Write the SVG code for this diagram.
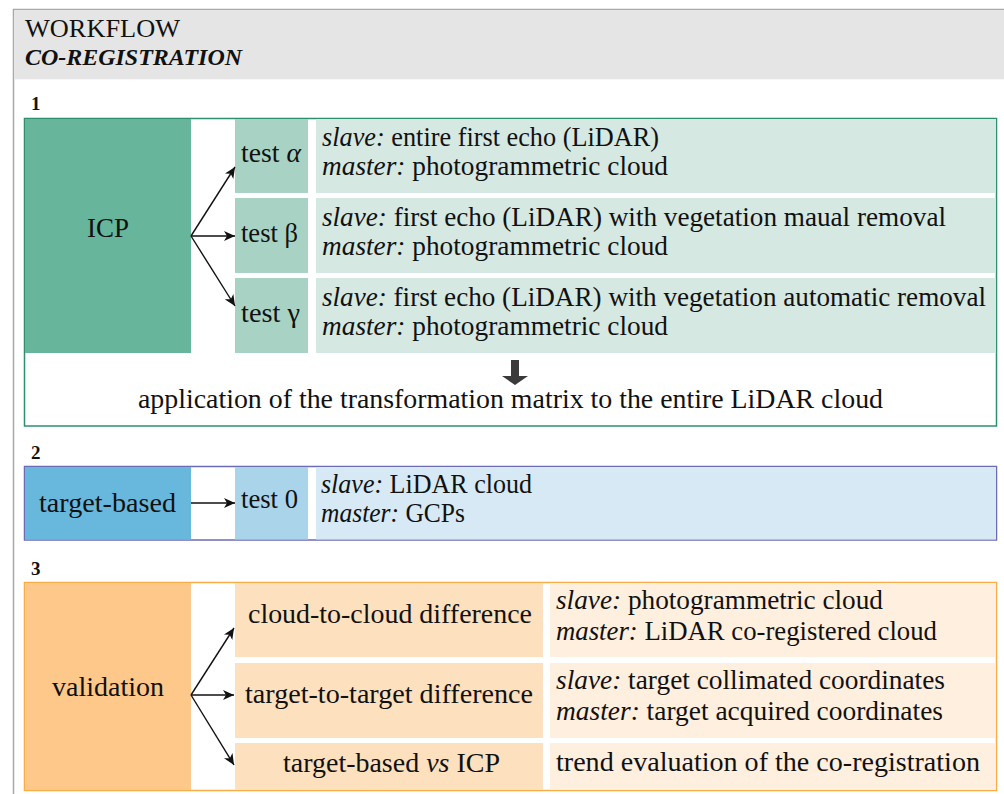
<svg xmlns="http://www.w3.org/2000/svg" width="1004" height="794" viewBox="0 0 1004 794">
<style>
text { font-family: "Liberation Serif", "Times New Roman", serif; fill: #111; }
.b { font-size: 27px; }
.c { text-anchor: middle; }
.i { font-style: italic; }
.num { font-size: 19px; font-weight: bold; }
.conn { stroke: #111; stroke-width: 1.4; fill: none; marker-end: url(#ah); }
</style>
<defs>
<marker id="ah" markerUnits="userSpaceOnUse" markerWidth="12" markerHeight="10" refX="11" refY="5" orient="auto">
<path d="M0,0 L11,5 L0,10 L3,5 z" fill="#111"/>
</marker>
</defs>
<rect x="0" y="0" width="1004" height="794" fill="#fff"/>
<g id="frame">
<rect x="13.5" y="9.5" width="1000" height="800" fill="#fff" stroke="#a8a8a8" stroke-width="1.5"/>
<rect x="14.3" y="10.3" width="990" height="69" fill="#e5e5e5"/>
<text x="25" y="37" style="font-size:26px" textLength="155" lengthAdjust="spacingAndGlyphs">WORKFLOW</text>
<text x="25" y="65" style="font-size:24px;font-weight:bold;font-style:italic" textLength="217" lengthAdjust="spacingAndGlyphs">CO-REGISTRATION</text>
</g>

<!-- Section 1 -->
<g id="section1">
<text class="num" x="31" y="110">1</text>
<rect x="24.5" y="118.5" width="972" height="307.5" fill="#fff" stroke="#2f8f6c" stroke-width="1.5"/>
</g>
<g id="icp">
<rect x="25" y="119" width="166" height="234" fill="#67b59b"/>
<text class="b c" x="108" y="237" textLength="42" lengthAdjust="spacingAndGlyphs">ICP</text>
</g>
<g id="test-alpha">
<rect x="235" y="119" width="73" height="74" fill="#a8d3c4"/>
<text class="b" x="241" y="162" textLength="60" lengthAdjust="spacingAndGlyphs">test <tspan class="i">α</tspan></text>
</g>
<g id="desc-alpha">
<rect x="316" y="119" width="680" height="74" fill="#d5e8e1"/>
<text class="b" x="322" y="146" textLength="337" lengthAdjust="spacingAndGlyphs"><tspan class="i">slave:</tspan> entire first echo (LiDAR)</text>
<text class="b" x="322" y="175" textLength="346" lengthAdjust="spacingAndGlyphs"><tspan class="i">master:</tspan> photogrammetric cloud</text>
</g>
<g id="test-beta">
<rect x="235" y="198" width="73" height="75" fill="#a8d3c4"/>
<text class="b" x="241" y="242" textLength="57" lengthAdjust="spacingAndGlyphs">test β</text>
</g>
<g id="desc-beta">
<rect x="316" y="198" width="680" height="75" fill="#d5e8e1"/>
<text class="b" x="322" y="226" textLength="624" lengthAdjust="spacingAndGlyphs"><tspan class="i">slave:</tspan> first echo (LiDAR) with vegetation maual removal</text>
<text class="b" x="322" y="255" textLength="346" lengthAdjust="spacingAndGlyphs"><tspan class="i">master:</tspan> photogrammetric cloud</text>
</g>
<g id="test-gamma">
<rect x="235" y="278" width="73" height="75" fill="#a8d3c4"/>
<text class="b" x="241" y="322" textLength="59" lengthAdjust="spacingAndGlyphs">test γ</text>
</g>
<g id="desc-gamma">
<rect x="316" y="278" width="680" height="75" fill="#d5e8e1"/>
<text class="b" x="322" y="306" textLength="664" lengthAdjust="spacingAndGlyphs"><tspan class="i">slave:</tspan> first echo (LiDAR) with vegetation automatic removal</text>
<text class="b" x="322" y="335" textLength="346" lengthAdjust="spacingAndGlyphs"><tspan class="i">master:</tspan> photogrammetric cloud</text>
</g>
<g id="apply">
<path d="M511,360 H519 V376 H528 L515,385 L502,376 H511 Z" fill="#3a3a3a"/>
<text class="b" x="138" y="408" textLength="745" lengthAdjust="spacingAndGlyphs">application of the transformation matrix to the entire LiDAR cloud</text>
</g>

<!-- Section 2 -->
<g id="section2">
<text class="num" x="31" y="459">2</text>
<rect x="24.5" y="466.5" width="972" height="73.5" fill="#fff" stroke="#6a6cb5" stroke-width="1.5"/>
</g>
<g id="target-based">
<rect x="25" y="467" width="166" height="72.5" fill="#68b8de"/>
<text class="b" x="39" y="512" textLength="137" lengthAdjust="spacingAndGlyphs">target-based</text>
</g>
<g id="test-0">
<rect x="235" y="467" width="73" height="72.5" fill="#a9d4ea"/>
<text class="b" x="241" y="508" textLength="57" lengthAdjust="spacingAndGlyphs">test 0</text>
</g>
<g id="desc-0">
<rect x="316" y="467" width="680" height="72.5" fill="#d6e9f5"/>
<text class="b" x="321" y="493" textLength="211" lengthAdjust="spacingAndGlyphs"><tspan class="i">slave:</tspan> LiDAR cloud</text>
<text class="b" x="321" y="522" textLength="144" lengthAdjust="spacingAndGlyphs"><tspan class="i">master:</tspan> GCPs</text>
</g>

<!-- Section 3 -->
<g id="section3">
<text class="num" x="31" y="575">3</text>
<rect x="24.5" y="582.5" width="972" height="208" fill="#fff" stroke="#f8ad48" stroke-width="1.5"/>
</g>
<g id="validation">
<rect x="25" y="583" width="166" height="207" fill="#fdc88a"/>
<text class="b" x="52" y="696" textLength="112" lengthAdjust="spacingAndGlyphs">validation</text>
</g>
<g id="c2c">
<rect x="235" y="583" width="308" height="74" fill="#fde0bd"/>
<text class="b" x="248" y="623" textLength="284" lengthAdjust="spacingAndGlyphs">cloud-to-cloud difference</text>
</g>
<g id="c2c-desc">
<rect x="550" y="583" width="446" height="74" fill="#feefde"/>
<text class="b" x="556" y="609" textLength="327" lengthAdjust="spacingAndGlyphs"><tspan class="i">slave:</tspan> photogrammetric cloud</text>
<text class="b" x="556" y="640" textLength="381" lengthAdjust="spacingAndGlyphs"><tspan class="i">master:</tspan> LiDAR co-registered cloud</text>
</g>
<g id="t2t">
<rect x="235" y="663" width="308" height="75" fill="#fde0bd"/>
<text class="b" x="245" y="703" textLength="288" lengthAdjust="spacingAndGlyphs">target-to-target difference</text>
</g>
<g id="t2t-desc">
<rect x="550" y="663" width="446" height="75" fill="#feefde"/>
<text class="b" x="556" y="689" textLength="389" lengthAdjust="spacingAndGlyphs"><tspan class="i">slave:</tspan> target collimated coordinates</text>
<text class="b" x="556" y="720" textLength="387" lengthAdjust="spacingAndGlyphs"><tspan class="i">master:</tspan> target acquired coordinates</text>
</g>
<g id="tb-vs-icp">
<rect x="235" y="743" width="308" height="47" fill="#fde0bd"/>
<text class="b" x="283" y="772" textLength="217" lengthAdjust="spacingAndGlyphs">target-based <tspan class="i">vs</tspan> ICP</text>
</g>
<g id="trend">
<rect x="550" y="743" width="446" height="47" fill="#feefde"/>
<text class="b" x="556" y="771" textLength="424" lengthAdjust="spacingAndGlyphs">trend evaluation of the co-registration</text>
</g>

<g id="connectors">
<line class="conn" x1="191" y1="236" x2="235" y2="167"/>
<line class="conn" x1="191" y1="236" x2="235" y2="236"/>
<line class="conn" x1="191" y1="236" x2="235" y2="306"/>
<line class="conn" x1="191" y1="503" x2="235" y2="503"/>
<line class="conn" x1="191" y1="695" x2="234" y2="628"/>
<line class="conn" x1="191" y1="695" x2="234" y2="695"/>
<line class="conn" x1="191" y1="695" x2="234" y2="765"/>
</g>
</svg>
